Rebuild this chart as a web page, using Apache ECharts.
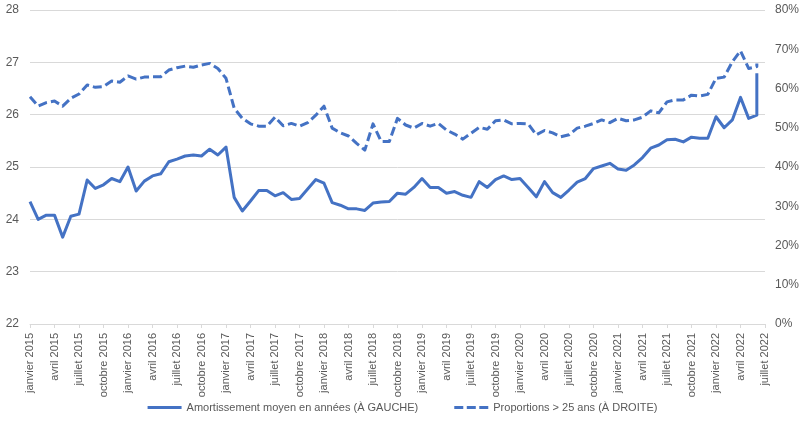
<!DOCTYPE html>
<html>
<head>
<meta charset="utf-8">
<script src="https://cdn.jsdelivr.net/npm/echarts@6/dist/echarts.min.js"></script>
<style>html,body{margin:0;padding:0;background:#fff;}#c{width:805px;height:429px;}</style>
</head>
<body>
<div id="c"></div>
<script>
const monthNames = ['janvier','février','mars','avril','mai','juin','juillet','août','septembre','octobre','novembre','décembre'];
const startYear = 2015;
const monthCount = 91; // janvier 2015 .. juillet 2022
const categories = [];
for (let i = 0; i < monthCount; i++) {
  categories.push(monthNames[i % 12] + ' ' + (startYear + Math.floor(i / 12)));
}

// Amortissement moyen en années (janvier 2015 .. juin 2022)
const amortValues = [
  24.34,24.00,24.08,24.08,23.66,24.06,24.10,24.75,24.59,24.66,24.78,24.72,
  25.00,24.54,24.73,24.83,24.87,25.10,25.15,25.21,25.23,25.21,25.34,25.23,
  25.38,24.42,24.16,24.35,24.55,24.55,24.45,24.51,24.38,24.40,24.58,24.76,
  24.69,24.32,24.27,24.20,24.20,24.17,24.31,24.33,24.34,24.50,24.48,24.61,
  24.78,24.61,24.61,24.50,24.53,24.46,24.42,24.72,24.61,24.76,24.83,24.76,
  24.78,24.61,24.43,24.72,24.51,24.42,24.56,24.71,24.78,24.97,25.02,25.07,
  24.96,24.94,25.04,25.18,25.36,25.42,25.52,25.53,25.48,25.57,25.55,25.55,
  25.96,25.75,25.90,26.33,25.93,25.99
];
// Proportions > 25 ans, en % (janvier 2015 .. juin 2022)
const propValues = [
  57.9,55.5,56.4,56.8,55.5,57.5,58.6,60.9,60.3,60.5,61.9,61.6,
  63.2,62.4,62.9,63.0,63.0,64.7,65.3,65.7,65.4,66.0,66.4,65.1,
  62.6,55.0,52.4,51.0,50.4,50.4,52.7,50.5,51.1,50.4,51.3,53.2,
  55.5,49.9,48.7,47.9,46.0,44.3,51.0,46.5,46.5,52.4,50.7,49.9,
  51.1,50.4,51.1,49.4,48.4,47.1,48.6,50.1,49.6,51.8,52.0,51.0,
  51.1,51.0,48.2,49.3,48.7,47.7,48.2,49.9,50.4,51.1,52.0,51.3,
  52.4,51.8,52.0,52.7,54.3,53.8,56.6,57.1,57.1,58.3,58.1,58.5,
  62.6,62.9,66.8,69.6,65.1,65.6
];
// Dernière observation (même mois que la dernière valeur ci-dessus)
const amortLast = 26.79;
const propLast = 66.4;

const leftTicks = {min: 22, max: 28, interval: 1};
const rightTicks = {min: 0, max: 80, interval: 10};

const toPairs = (arr, last) => {
  const d = arr.map((v, i) => [i, v]);
  d.push([arr.length - 1, last]);
  return d;
};

const color = '#4472C4';
const txt = '#595959';
const font = 'Liberation Sans';
const nameA = 'Amortissement moyen en années (À GAUCHE)';
const nameB = 'Proportions > 25 ans (À DROITE)';

const chart = echarts.init(document.getElementById('c'), null, {renderer: 'canvas'});
chart.setOption({
  animation: false,
  textStyle: {fontFamily: font},
  grid: {left: 30, right: 40, top: 10, bottom: 105, containLabel: false},
  legend: {
    top: 397,
    left: 'center',
    itemWidth: 34,
    itemHeight: 3,
    itemGap: 36,
    textStyle: {color: txt, fontSize: 11, fontFamily: font},
    data: [
      {name: nameA, icon: 'rect'},
      {name: nameB, icon: 'path://M0,0h9v3h-9z M12.5,0h9v3h-9z M25,0h9v3h-9z'}
    ]
  },
  xAxis: {
    type: 'category',
    data: categories,
    boundaryGap: false,
    axisLine: {lineStyle: {color: '#d9d9d9', width: 1}},
    axisTick: {show: true, interval: 2, length: 4, lineStyle: {color: '#d9d9d9'}},
    axisLabel: {interval: 2, rotate: 90, color: txt, fontSize: 11, fontFamily: font, margin: 9},
    splitLine: {show: false}
  },
  yAxis: [
    {
      type: 'value', min: leftTicks.min, max: leftTicks.max, interval: leftTicks.interval,
      axisLine: {show: false}, axisTick: {show: false},
      axisLabel: {color: txt, fontSize: 12, fontFamily: font, margin: 11},
      splitLine: {lineStyle: {color: '#d9d9d9', width: 1}}
    },
    {
      type: 'value', min: rightTicks.min, max: rightTicks.max, interval: rightTicks.interval,
      position: 'right',
      axisLine: {show: false}, axisTick: {show: false},
      axisLabel: {color: txt, fontSize: 12, fontFamily: font, margin: 10, formatter: '{value}%'},
      splitLine: {show: false}
    }
  ],
  series: [
    {
      name: nameA,
      type: 'line', yAxisIndex: 0,
      data: toPairs(amortValues, amortLast),
      symbol: 'none', showSymbol: false,
      lineStyle: {color: color, width: 3, cap: 'butt', join: 'round'},
      itemStyle: {color: color}
    },
    {
      name: nameB,
      type: 'line', yAxisIndex: 1,
      data: toPairs(propValues, propLast),
      symbol: 'none', showSymbol: false,
      lineStyle: {color: color, width: 3, type: [9, 4], cap: 'butt', join: 'round'},
      itemStyle: {color: color}
    }
  ]
});
</script>
</body>
</html>
